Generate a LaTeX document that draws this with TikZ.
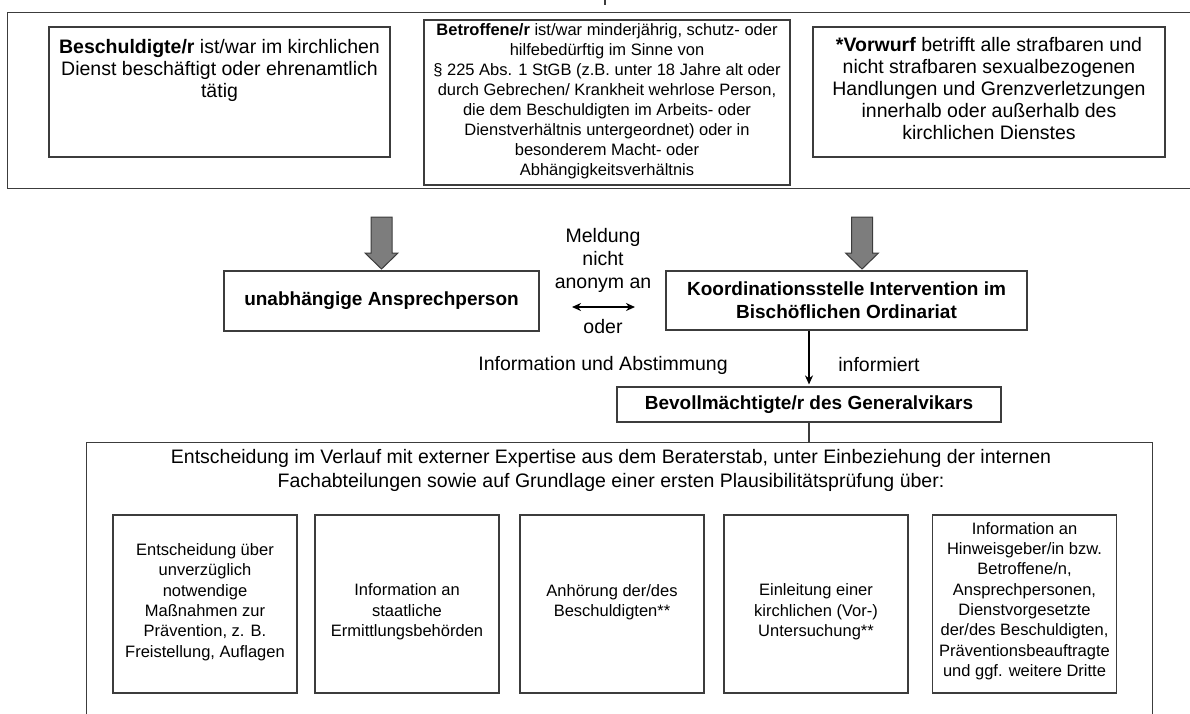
\documentclass[tikz,border=0pt]{standalone}
\usepackage{fontspec}
\setmainfont{Liberation Sans}
\usetikzlibrary{positioning,arrows.meta}
\definecolor{rahmen}{HTML}{3C3C3C}
\definecolor{pfeilgrau}{HTML}{7D7D7D}

\begin{document}
\begin{tikzpicture}[x={(1pt,0pt)}, y={(0pt,-1pt)}]
%Stile
\tikzstyle{kasten}=[rectangle, draw=rahmen, line width=1.2pt, inner sep=0pt]
\tikzstyle{textGross}=[rectangle, text=black, align=center, inner sep=0pt, font=\fontsize{19.5}{22}\selectfont]
\tikzstyle{textMittel}=[rectangle, text=black, align=center, inner sep=0pt, font=\fontsize{16.5}{20}\selectfont]
\tikzstyle{textKlein}=[rectangle, text=black, align=center, inner sep=0pt, font=\fontsize{16.5}{20.3}\selectfont]
\tikzstyle{textFett}=[rectangle, text=black, align=center, inner sep=0pt, font=\fontsize{19}{23}\selectfont\bfseries]
\tikzstyle{blockPfeil}=[draw=rahmen, fill=pfeilgrau, line width=1pt]
\tikzstyle{pfeil}=[-{Stealth[length=9pt,width=8pt]}, line width=2pt, draw=black]
\useasboundingbox (0,0) rectangle (1190,713);
\clip (0,0) rectangle (1190,713);
%Rahmen oben
\node[kasten, anchor=north west, minimum width=1200, minimum height=176] (oben) at (7,12) {};
\coordinate (zulauf) at (605,0);
\draw[rahmen, line width=1.2pt] (zulauf) -- ++(0,5);

\node[kasten, minimum width=341, minimum height=130] (beschuldigt) at (219.5,92) {};
\node[textGross] (tBeschuldigt) at (219.5,70) {\textbf{Beschuldigte/r} ist/war im kirchlichen\\Dienst beschäftigt oder ehrenamtlich\\tätig};

\node[kasten, minimum width=366, minimum height=165] (betroffen) at (607,102.5) {};
\node[textMittel] (tBetroffen) at (607,101) {\textbf{Betroffene/r} ist/war minderjährig, schutz- oder\\hilfebedürftig im Sinne von\\§ 225 Abs. 1 StGB (z.B. unter 18 Jahre alt oder\\durch Gebrechen/ Krankheit wehrlose Person,\\die dem Beschuldigten im Arbeits- oder\\Dienstverhältnis untergeordnet) oder in\\besonderem Macht- oder\\Abhängigkeitsverhältnis};

\node[kasten, minimum width=352, minimum height=130] (vorwurf) at (989,92) {};
\node[textGross] (tVorwurf) at (989,89) {\textbf{*Vorwurf} betrifft alle strafbaren und\\nicht strafbaren sexualbezogenen\\Handlungen und Grenzverletzungen\\innerhalb oder außerhalb des\\kirchlichen Dienstes};

%Blockpfeile
\foreach \px in {381.5,862}
  \draw[blockPfeil] (\px-10.5,217) -- (\px+10.5,217) -- (\px+10.5,253) -- (\px+16.5,253)
    -- (\px,269) -- (\px-16.5,253) -- (\px-10.5,253) -- cycle;

%Mitte
\node[kasten, minimum width=315, minimum height=60, textFett] (ansprech) at (381.5,301) {unabhängige Ansprechperson};
\node[kasten, minimum width=361, minimum height=59, textFett] (koord) at (846.5,300.5) {Koordinationsstelle Intervention im\\Bischöflichen Ordinariat};

\node[textGross, font=\fontsize{19.5}{23}\selectfont] (meldung) at (603,260) {Meldung\\nicht\\anonym an};
\node[textGross] (oder) at (603,327) {oder};
\coordinate (mL) at (572,307);
\coordinate (mR) at (635,307);
\draw[{Stealth[length=9pt,width=8pt]}-{Stealth[length=9pt,width=8pt]}, line width=2pt] (mL) -- (mR);

\node[kasten, minimum width=384, minimum height=35, textFett] (bev) at (809,404.5) {Bevollmächtigte/r des Generalvikars};
\draw[pfeil, shorten >=2pt] (bev.north |- koord.south) -- (bev.north);
\node[textGross] (abstimmung) at (603,365) {Information und Abstimmung};
\node[textGross] (informiert) at (879,365) {informiert};

%Rahmen unten
\node[kasten, anchor=north west, minimum width=1066, minimum height=300] (unten) at (86,442) {};
\draw[rahmen, line width=2pt] (bev.south) -- (bev.south |- unten.north);
\node[textGross, font=\fontsize{19.5}{24}\selectfont] (kopf) at (611,470) {Entscheidung im Verlauf mit externer Expertise aus dem Beraterstab, unter Einbeziehung der internen\\Fachabteilungen sowie auf Grundlage einer ersten Plausibilitätsprüfung über:};

\tikzstyle{massnahme}=[kasten, minimum width=184, minimum height=178]
\node[massnahme] (mA) at (205,604) {};
\node[massnahme] (mB) at (407,604) {};
\node[massnahme] (mC) at (612,604) {};
\node[massnahme] (mD) at (816,604) {};
\node[massnahme] (mE) at (1024.5,604) {};

\node[textKlein] (tA) at (205,602) {Entscheidung über\\unverzüglich\\notwendige\\Maßnahmen zur\\Prävention, z. B.\\Freistellung, Auflagen};
\node[textKlein] (tB) at (407,612) {Information an\\staatliche\\Ermittlungsbehörden};
\node[textKlein] (tC) at (612,602) {Anhörung der/des\\Beschuldigten**};
\node[textKlein] (tD) at (816,612) {Einleitung einer\\kirchlichen (Vor-)\\Untersuchung**};
\node[textKlein] (tE) at (1024.5,601) {Information an\\Hinweisgeber/in bzw.\\Betroffene/n,\\Ansprechpersonen,\\Dienstvorgesetzte\\der/des Beschuldigten,\\Präventionsbeauftragte\\und ggf. weitere Dritte};
\end{tikzpicture}
\end{document}
